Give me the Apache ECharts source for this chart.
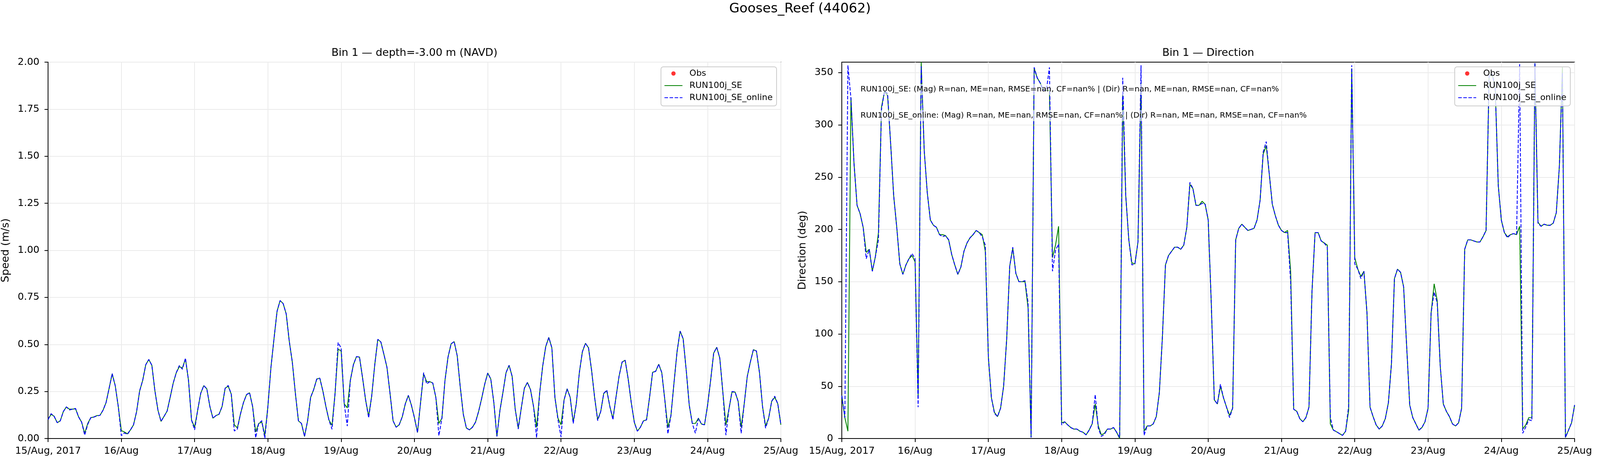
<!DOCTYPE html>
<html>
<head>
<meta charset="utf-8">
<title>Gooses_Reef (44062)</title>
<script src="https://cdn.jsdelivr.net/npm/echarts@6.0.0/dist/echarts.min.js"></script>
<style>
    html, body { margin: 0; padding: 0; background: #fff; overflow: hidden; }
    #chart { width: 5000px; height: 1200px; }
</style>
</head>
<body>
<div id="chart"></div>
<script>
// hourly samples, 15/Aug/2017 00:00 .. 25/Aug/2017 00:00 (241 values)
var dayLabels = ['15/Aug, 2017', '16/Aug', '17/Aug', '18/Aug', '19/Aug', '20/Aug',
                 '21/Aug', '22/Aug', '23/Aug', '24/Aug', '25/Aug'];
var dirTicks = [0, 50, 100, 150, 200, 250, 300, 350];

// no observations in this window
var obsSpeed = [];
var obsDir = [];

// speed (m/s)
var speedSE = [
    0.101, 0.129, 0.118, 0.084, 0.094, 0.143, 0.168, 0.156, 0.156, 0.158, 0.115, 0.087, 0.028, 0.080, 0.111, 0.114, 0.122, 0.123, 0.150, 0.191, 0.267, 0.343, 0.281, 0.170,
    0.042, 0.035, 0.025, 0.046, 0.073, 0.143, 0.253, 0.309, 0.392, 0.420, 0.389, 0.253, 0.150, 0.091, 0.118, 0.146, 0.219, 0.295, 0.350, 0.382, 0.375, 0.423, 0.309, 0.098,
    0.060, 0.150, 0.240, 0.281, 0.264, 0.170, 0.108, 0.122, 0.129, 0.170, 0.267, 0.278, 0.236, 0.073, 0.056, 0.129, 0.191, 0.233, 0.243, 0.170, 0.035, 0.080, 0.087, 0.018,
    0.170, 0.378, 0.530, 0.676, 0.733, 0.717, 0.662, 0.517, 0.406, 0.240, 0.094, 0.080, 0.011, 0.094, 0.219, 0.260, 0.316, 0.321, 0.253, 0.170, 0.098, 0.070, 0.240, 0.475,
    0.465, 0.184, 0.163, 0.309, 0.392, 0.435, 0.433, 0.323, 0.205, 0.118, 0.226, 0.392, 0.527, 0.513, 0.447, 0.378, 0.240, 0.094, 0.060, 0.073, 0.115, 0.184, 0.229, 0.177,
    0.110, 0.032, 0.191, 0.343, 0.302, 0.302, 0.295, 0.219, 0.080, 0.108, 0.309, 0.433, 0.503, 0.515, 0.440, 0.274, 0.129, 0.056, 0.046, 0.060, 0.087, 0.143, 0.212, 0.288,
    0.348, 0.316, 0.191, 0.011, 0.150, 0.247, 0.350, 0.389, 0.330, 0.156, 0.056, 0.163, 0.267, 0.298, 0.260, 0.170, 0.060, 0.240, 0.385, 0.489, 0.537, 0.482, 0.219, 0.108,
    0.073, 0.205, 0.264, 0.219, 0.087, 0.184, 0.350, 0.461, 0.506, 0.482, 0.364, 0.219, 0.101, 0.143, 0.240, 0.253, 0.170, 0.105, 0.219, 0.330, 0.406, 0.416, 0.316, 0.191,
    0.087, 0.039, 0.060, 0.094, 0.099, 0.219, 0.352, 0.357, 0.395, 0.350, 0.205, 0.060, 0.122, 0.295, 0.461, 0.571, 0.530, 0.364, 0.177, 0.080, 0.080, 0.108, 0.077, 0.073,
    0.177, 0.309, 0.454, 0.485, 0.427, 0.247, 0.073, 0.156, 0.247, 0.247, 0.198, 0.060, 0.184, 0.330, 0.406, 0.472, 0.465, 0.350, 0.170, 0.066, 0.108, 0.198, 0.219, 0.184,
    0.073
];
var speedOnline = [
    0.101, 0.132, 0.118, 0.084, 0.094, 0.143, 0.168, 0.152, 0.156, 0.160, 0.115, 0.087, 0.018, 0.075, 0.111, 0.114, 0.120, 0.123, 0.150, 0.191, 0.267, 0.345, 0.281, 0.170,
    0.015, 0.030, 0.022, 0.046, 0.073, 0.143, 0.253, 0.309, 0.392, 0.420, 0.389, 0.253, 0.150, 0.091, 0.118, 0.146, 0.219, 0.295, 0.350, 0.388, 0.368, 0.427, 0.309, 0.098,
    0.046, 0.150, 0.240, 0.281, 0.264, 0.170, 0.108, 0.122, 0.129, 0.170, 0.267, 0.282, 0.236, 0.040, 0.050, 0.129, 0.191, 0.233, 0.243, 0.170, 0.004, 0.080, 0.095, 0.000,
    0.170, 0.378, 0.530, 0.676, 0.733, 0.717, 0.662, 0.517, 0.406, 0.240, 0.094, 0.080, 0.011, 0.094, 0.219, 0.260, 0.316, 0.321, 0.253, 0.170, 0.098, 0.049, 0.240, 0.510,
    0.480, 0.184, 0.066, 0.309, 0.392, 0.435, 0.433, 0.323, 0.205, 0.110, 0.226, 0.392, 0.527, 0.513, 0.447, 0.378, 0.240, 0.094, 0.060, 0.073, 0.115, 0.184, 0.229, 0.177,
    0.110, 0.032, 0.191, 0.350, 0.290, 0.302, 0.295, 0.219, 0.015, 0.108, 0.309, 0.433, 0.503, 0.515, 0.440, 0.274, 0.129, 0.056, 0.046, 0.060, 0.087, 0.143, 0.212, 0.288,
    0.348, 0.316, 0.191, 0.011, 0.150, 0.247, 0.350, 0.389, 0.330, 0.156, 0.050, 0.163, 0.267, 0.298, 0.260, 0.170, 0.004, 0.240, 0.385, 0.489, 0.537, 0.482, 0.219, 0.100,
    0.008, 0.205, 0.264, 0.219, 0.080, 0.184, 0.350, 0.461, 0.506, 0.482, 0.364, 0.219, 0.095, 0.143, 0.240, 0.258, 0.170, 0.100, 0.219, 0.330, 0.406, 0.416, 0.316, 0.191,
    0.087, 0.039, 0.060, 0.094, 0.099, 0.219, 0.352, 0.357, 0.395, 0.350, 0.205, 0.025, 0.122, 0.295, 0.461, 0.571, 0.530, 0.364, 0.177, 0.080, 0.028, 0.108, 0.077, 0.073,
    0.177, 0.309, 0.454, 0.485, 0.427, 0.247, 0.018, 0.156, 0.250, 0.247, 0.198, 0.028, 0.184, 0.330, 0.406, 0.472, 0.465, 0.350, 0.170, 0.055, 0.108, 0.198, 0.225, 0.184,
    0.073
];

// direction (deg)
var dirSE = [
    41, 20, 7, 326, 263, 223, 215, 202, 178, 181, 160, 174, 197, 317, 332, 328, 282, 232, 202, 167, 157, 166, 172, 175,
    169, 41, 360, 275, 235, 209, 204, 202, 195, 195, 194, 190, 176, 166, 157, 164, 179, 187, 192, 195, 199, 197, 195, 179,
    78, 39, 25, 21, 29, 50, 95, 165, 182, 158, 150, 150, 150, 125, 1, 354, 345, 340, 333, 333, 333, 173, 185, 203,
    15, 16, 13, 10.5, 9, 9, 7, 6, 3.5, 8, 14, 33, 12, 3.5, 5, 9, 9, 10.5, 6, 0, 328, 232, 190, 168,
    167, 188, 340, 7, 12, 12, 14, 21, 44, 97, 166, 175, 179, 183, 183, 181, 185, 202, 243, 239, 223, 223, 227, 224,
    209, 130, 37, 33, 50, 39, 30, 22, 29, 190, 201, 205, 202, 199, 200, 201, 209, 228, 272, 280, 253, 224, 213, 204,
    199, 197, 199, 160, 28, 26, 19, 16, 20, 30, 141, 197, 197, 189, 187, 185, 14, 8, 6.5, 4.7, 3, 7, 27, 354,
    173, 162, 155, 160, 120, 30, 21, 13, 9, 12, 19, 34, 71, 153, 162, 159, 145, 88, 32, 20, 14, 8, 10.5, 16,
    29, 120, 148, 132, 69, 33, 26, 21, 14, 12, 15, 29, 181, 190, 190, 189, 188, 188, 193, 199, 347, 349, 335, 242,
    209, 197, 193, 195, 196, 195, 203, 9, 13, 20, 20, 359, 207, 203, 205, 204, 204, 206, 216, 260, 355, 1, 8, 15,
    32
];
var dirOnline = [
    41, 20, 357, 325, 263, 223, 215, 202, 172, 181, 160, 174, 190, 315, 332, 330, 282, 232, 202, 167, 157, 166, 172, 177,
    172, 30, 356, 275, 235, 209, 204, 202, 195, 193, 194, 190, 176, 166, 157, 164, 179, 187, 192, 195, 199, 197, 193, 185,
    78, 39, 24, 21, 29, 50, 95, 165, 183, 158, 150, 150, 151, 130, 1, 355, 345, 340, 333, 333, 355, 160, 180, 186,
    13, 16, 13, 10.5, 9, 9, 7, 6, 3.5, 8, 14, 42, 10, 2, 4, 9, 9, 10.5, 6, 1, 345, 232, 190, 166,
    167, 188, 357, 3, 12, 12, 14, 21, 44, 97, 166, 175, 179, 183, 183, 181, 185, 202, 245, 239, 223, 223, 225, 224,
    209, 130, 37, 33, 52, 39, 30, 20, 29, 190, 201, 205, 202, 199, 200, 201, 209, 228, 274, 284, 253, 224, 213, 204,
    199, 197, 197, 150, 28, 26, 19, 16, 20, 30, 141, 197, 197, 189, 187, 183, 20, 8, 6.5, 4.7, 3, 7, 31, 357,
    167, 162, 153, 160, 120, 30, 21, 13, 9, 12, 19, 34, 71, 153, 162, 159, 145, 88, 32, 20, 14, 8, 10.5, 16,
    29, 120, 140, 130, 69, 33, 26, 21, 14, 12, 15, 29, 181, 190, 190, 189, 188, 188, 193, 199, 347, 349, 335, 242,
    209, 197, 192, 195, 196, 195, 358, 5, 11, 18, 17, 359, 206, 203, 205, 204, 204, 206, 216, 260, 350, 1, 8, 15,
    32
];

var statsSE = 'RUN100j_SE: (Mag) R=nan, ME=nan, RMSE=nan, CF=nan% | (Dir) R=nan, ME=nan, RMSE=nan, CF=nan%';
var statsOnline = 'RUN100j_SE_online: (Mag) R=nan, ME=nan, RMSE=nan, CF=nan% | (Dir) R=nan, ME=nan, RMSE=nan, CF=nan%';

var FONT = 'DejaVu Sans';

// the layout was measured on a 5000px wide figure; stretch it to the window we really get
var W = Math.min(window.innerWidth || 5000, 5000);
var H = 1200;
var sx = W / 5000;
function X(px) { return Math.round(px * sx); }

var el = document.getElementById('chart');
el.style.width = W + 'px';
el.style.height = H + 'px';

var axL = [X(150), X(2631)];          // left edge of each panel
var axW = X(2440) - X(150);           // panel width
var axTop = 159, axH = 963;

function pairs(arr) {
    return arr.map(function (v, i) { return [i, v]; });
}

function xAxisFor(idx) {
    return {
        type: 'value', gridIndex: idx, min: 0, max: 240, interval: 24,
        axisLine: { show: true, onZero: false, lineStyle: { color: '#000', width: 2 } },
        axisTick: { show: true, length: 9, lineStyle: { color: '#000', width: 2 } },
        axisLabel: {
            color: '#000', fontSize: 25, fontFamily: FONT, margin: 20,
            formatter: function (v) { return dayLabels[Math.round(v / 24)]; }
        },
        splitLine: { show: true, lineStyle: { color: '#ebebeb', width: 2 } }
    };
}

function seriesFor(idx, obs, se, online) {
    return [
        {
            name: 'Obs', type: 'scatter', xAxisIndex: idx, yAxisIndex: idx,
            data: obs, symbol: 'circle', symbolSize: 11, itemStyle: { color: '#ff0000' }
        },
        {
            name: 'RUN100j_SE', type: 'line', xAxisIndex: idx, yAxisIndex: idx,
            data: pairs(se), symbol: 'none', showSymbol: false,
            lineStyle: { color: '#008000', width: 2.2 }, itemStyle: { color: '#008000' }, z: 3
        },
        {
            name: 'RUN100j_SE_online', type: 'line', xAxisIndex: idx, yAxisIndex: idx,
            data: pairs(online), symbol: 'none', showSymbol: false,
            lineStyle: { color: '#0000ff', width: 2.2, type: [9, 4] }, itemStyle: { color: '#0000ff' }, z: 4
        }
    ];
}

function legendAt(idx) {
    // box right edge sits 11px inside the panel's right spine
    return {
        right: W - (axL[idx] + axW - 11), top: 171, orient: 'vertical', selectedMode: false, z: 20,
        data: [
            { name: 'Obs' },
            { name: 'RUN100j_SE', itemStyle: { opacity: 0 } },
            { name: 'RUN100j_SE_online', itemStyle: { opacity: 0 } }
        ],
        itemWidth: 46, itemHeight: 11, itemGap: 9,
        textStyle: { color: '#000', fontSize: 22, fontFamily: FONT, padding: [0, 0, 0, 13] },
        backgroundColor: 'rgba(255,255,255,0.8)',
        borderColor: '#cccccc', borderWidth: 2, borderRadius: 6,
        padding: [6, 10, 10, 8]
    };
}

function statsText(y, txt) {
    return {
        type: 'text', x: axL[1] + 45, y: y, z: 100,
        style: { text: txt, fontSize: 20, fontFamily: FONT, fill: '#000', align: 'left', verticalAlign: 'middle',
                 backgroundColor: 'rgba(255,255,255,0.6)', padding: [4, 3, 4, 3] }
    };
}

var chart = echarts.init(el, null, { width: W, height: H });

var option = {
    animation: false,
    backgroundColor: '#fff',
    textStyle: { fontFamily: FONT },
    title: [
        { text: 'Gooses_Reef (44062)', left: X(2500), top: 6, textAlign: 'center', padding: 0,
          textStyle: { fontSize: 34, fontWeight: 'normal', color: '#000', fontFamily: FONT } },
        { text: 'Bin 1 \u2014 depth=-3.00 m (NAVD)', left: axL[0] + axW / 2, top: 122, textAlign: 'center', padding: 0,
          textStyle: { fontSize: 27, fontWeight: 'normal', color: '#000', fontFamily: FONT } },
        { text: 'Bin 1 \u2014 Direction', left: axL[1] + axW / 2, top: 122, textAlign: 'center', padding: 0,
          textStyle: { fontSize: 27, fontWeight: 'normal', color: '#000', fontFamily: FONT } }
    ],
    legend: [legendAt(0), legendAt(1)],
    grid: [
        { left: axL[0], top: axTop, width: axW, height: axH, show: true, borderColor: '#000', borderWidth: 2, backgroundColor: 'transparent' },
        { left: axL[1], top: axTop, width: axW, height: axH, show: true, borderColor: '#000', borderWidth: 2, backgroundColor: 'transparent' }
    ],
    xAxis: [xAxisFor(0), xAxisFor(1)],
    yAxis: [
        {
            type: 'value', gridIndex: 0, min: 0, max: 2, interval: 0.25,
            axisLine: { show: true, lineStyle: { color: '#000', width: 2 } },
            axisTick: { show: true, length: 9, lineStyle: { color: '#000', width: 2 } },
            axisLabel: { color: '#000', fontSize: 25, fontFamily: FONT, margin: 22,
                         formatter: function (v) { return v.toFixed(2); } },
            splitLine: { show: true, lineStyle: { color: '#ebebeb', width: 2 } }
        },
        {
            type: 'value', gridIndex: 1, min: 0, max: 360, interval: 50,
            axisLine: { show: true, lineStyle: { color: '#000', width: 2 } },
            axisTick: { show: true, length: 9, customValues: dirTicks, lineStyle: { color: '#000', width: 2 } },
            axisLabel: { color: '#000', fontSize: 25, fontFamily: FONT, margin: 22, customValues: dirTicks },
            splitLine: { show: true, lineStyle: { color: '#ebebeb', width: 2 } }
        }
    ],
    series: seriesFor(0, obsSpeed, speedSE, speedOnline).concat(seriesFor(1, obsDir, dirSE, dirOnline)),
    graphic: [
        { type: 'text', x: axL[0] - 108, y: axTop + axH / 2, rotation: Math.PI / 2, z: 100,
          style: { text: 'Speed (m/s)', fontSize: 27, fontFamily: FONT, fill: '#000', align: 'center', verticalAlign: 'middle' } },
        { type: 'text', x: axL[1] - 100, y: axTop + axH / 2, rotation: Math.PI / 2, z: 100,
          style: { text: 'Direction (deg)', fontSize: 27, fontFamily: FONT, fill: '#000', align: 'center', verticalAlign: 'middle' } },
        statsText(229, statsSE),
        statsText(296, statsOnline)
    ]
};

chart.setOption(option);
</script>
</body>
</html>
